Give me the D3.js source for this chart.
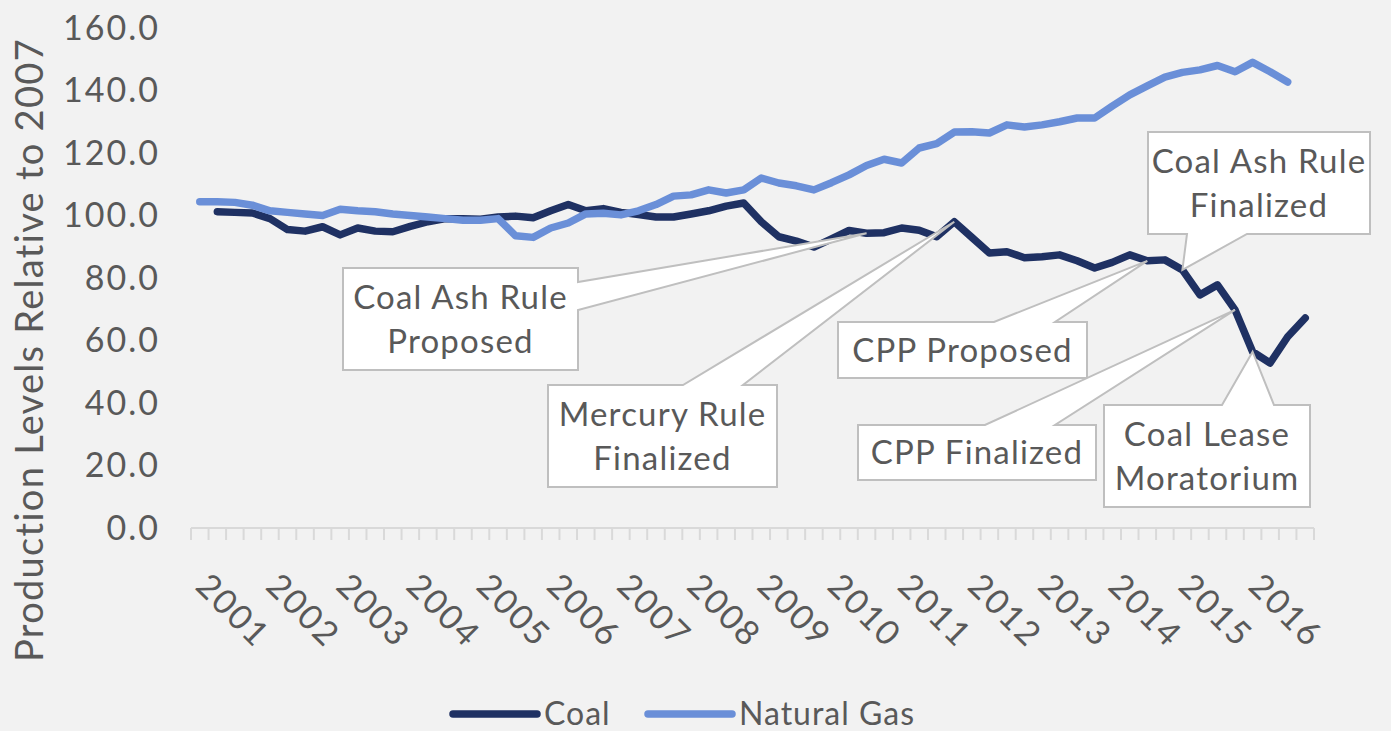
<!DOCTYPE html>
<html>
<head>
<meta charset="utf-8">
<script src="https://cdn.jsdelivr.net/npm/d3@7"></script>
<style>
  html, body { margin: 0; padding: 0; background: #f2f2f2; }
  svg { display: block; font-family: Lato, "Open Sans", sans-serif; }
</style>
</head>
<body>
<div id="chart"></div>
<script>
// Chart values
const years = ["2001", "2002", "2003", "2004", "2005", "2006", "2007", "2008",
  "2009", "2010", "2011", "2012", "2013", "2014", "2015", "2016"];
const quarters = ["Q1", "Q2", "Q3", "Q4"];
const yTicks = [0, 20, 40, 60, 80, 100, 120, 140, 160];

// quarterly production index, first coal quarter and last gas quarter not reported
const coal = [null, 101.2, 101.0, 100.8, 99.0, 95.5, 95.0, 96.4, 93.8, 96.0,
  95.0, 94.8, 96.5, 98.0, 99.0, 99.0, 98.8, 99.5, 99.8, 99.3,
  101.5, 103.5, 101.5, 102.2, 101.0, 100.3, 99.5, 99.5, 100.5, 101.5,
  103.0, 104.0, 98.0, 93.2, 91.8, 89.9, 92.5, 95.2, 94.3, 94.5,
  96.0, 95.3, 93.2, 98.0, 93.0, 88.0, 88.4, 86.5, 86.8, 87.4,
  85.5, 83.2, 85.0, 87.4, 85.5, 85.8, 82.6, 74.6, 77.8, 69.8,
  56.4, 52.8, 61.2, 67.2];
const gas = [104.4, 104.4, 104.2, 103.3, 101.5, 101.0, 100.5, 100.0, 102.0, 101.5,
  101.2, 100.5, 100.0, 99.5, 99.0, 98.5, 98.5, 99.0, 93.5, 93.0,
  96.0, 97.6, 100.5, 100.7, 100.2, 101.5, 103.5, 106.2, 106.6, 108.2,
  107.2, 108.2, 112.0, 110.4, 109.5, 108.2, 110.5, 113.0, 116.0, 118.0,
  116.8, 121.6, 123.0, 126.7, 126.8, 126.4, 129.0, 128.3, 129.0, 130.0,
  131.2, 131.2, 135.0, 138.6, 141.5, 144.3, 145.8, 146.6, 148.0, 146.0,
  149.0, 146.0, 142.7, null];

const seriesNames = ["Coal", "Natural Gas"];
const seriesColors = ["#1f3163", "#6a8fd8"];

// policy events: label lines and the coal quarter they point at
const eventLabels = [
  ["Coal Ash Rule", "Proposed"],
  ["Mercury Rule", "Finalized"],
  ["CPP Proposed"],
  ["CPP Finalized"],
  ["Coal Ash Rule", "Finalized"],
  ["Coal Lease", "Moratorium"]
];
const eventQuarter = [38, 43, 54, 59, 56, 60];

// callout box layout in pixels: x, y, w, h and wedge base points on the box edge
const calloutBoxes = [
  { x: 343, y: 268, w: 235, h: 102, edge: "right", a: 14, b: 42 },
  { x: 548, y: 385, w: 229, h: 102, edge: "top", a: 135, b: 195 },
  { x: 838, y: 322, w: 249, h: 56, edge: "top", a: 156, b: 217 },
  { x: 858, y: 425, w: 238, h: 55, edge: "top", a: 127, b: 197 },
  { x: 1148, y: 132, w: 222, h: 102, edge: "bottom", a: 39, b: 99 },
  { x: 1104, y: 405, w: 206, h: 102, edge: "top", a: 118, b: 170 }
];

const W = 1391, H = 731;
const textColor = "#595959";

const svg = d3.select("#chart")
  .append("svg")
  .attr("width", W)
  .attr("height", H);

svg.append("rect").attr("width", W).attr("height", H).attr("fill", "#f2f2f2");

const categories = [];
years.forEach(y => quarters.forEach(q => categories.push(y + " " + q)));

const x = d3.scaleBand()
  .domain(categories)
  .range([191, 1314])
  .padding(0);

const y = d3.scaleLinear()
  .domain([0, 160])
  .range([528, 28]);

const cx = i => x(categories[i]) + x.bandwidth() / 2;

// Y axis labels
svg.append("g")
  .selectAll("text")
  .data(yTicks)
  .enter()
  .append("text")
  .attr("x", 160)
  .attr("y", d => y(d))
  .attr("dy", "0.35em")
  .attr("text-anchor", "end")
  .attr("fill", textColor)
  .attr("font-size", 34)
  .attr("letter-spacing", 2)
  .text(d => d.toFixed(1));

svg.append("text")
  .attr("transform", `translate(43,${350}) rotate(-90)`)
  .attr("text-anchor", "middle")
  .attr("fill", textColor)
  .attr("font-size", 38)
  .attr("letter-spacing", 1.3)
  .text("Production Levels Relative to 2007");

// X axis line and ticks
const axisG = svg.append("g").attr("stroke", "#d9d9d9").attr("stroke-width", 2);
axisG.append("line")
  .attr("x1", 191).attr("x2", 1314)
  .attr("y1", 528).attr("y2", 528);
axisG.selectAll("line.tick")
  .data(d3.range(categories.length + 1))
  .enter()
  .append("line")
  .attr("class", "tick")
  .attr("x1", i => i < categories.length ? x(categories[i]) : x.range()[1])
  .attr("x2", i => i < categories.length ? x(categories[i]) : x.range()[1])
  .attr("y1", 528)
  .attr("y2", 540);

svg.append("g")
  .selectAll("text")
  .data(years)
  .enter()
  .append("text")
  .attr("transform", d => `translate(${x(d + " Q1") + 3},588) rotate(45)`)
  .attr("fill", textColor)
  .attr("font-size", 34)
  .attr("letter-spacing", 2)
  .text(d => d);

// Lines
const line = d3.line()
  .defined(d => d != null)
  .x((d, i) => cx(i))
  .y(d => y(d));

[coal, gas].forEach((s, k) => {
  svg.append("path")
    .datum(s)
    .attr("fill", "none")
    .attr("stroke", seriesColors[k])
    .attr("stroke-width", 7.5)
    .attr("stroke-linejoin", "round")
    .attr("stroke-linecap", "round")
    .attr("d", line);
});

// Callouts
function calloutPath(b, tip) {
  const pts = [];
  const L = b.x, T = b.y, R = b.x + b.w, B = b.y + b.h;
  pts.push([L, T]);
  if (b.edge === "top") pts.push([L + b.a, T], tip, [L + b.b, T]);
  pts.push([R, T]);
  if (b.edge === "right") pts.push([R, T + b.a], tip, [R, T + b.b]);
  pts.push([R, B]);
  if (b.edge === "bottom") pts.push([L + b.b, B], tip, [L + b.a, B]);
  pts.push([L, B]);
  return "M" + pts.map(p => p.join(",")).join("L") + "Z";
}

eventLabels.forEach((lines, k) => {
  const b = calloutBoxes[k];
  const q = eventQuarter[k];
  const tip = [cx(q), y(coal[q])];
  const g = svg.append("g");
  g.append("path")
    .attr("d", calloutPath(b, tip))
    .attr("fill", "#ffffff")
    .attr("stroke", "#bfbfbf")
    .attr("stroke-width", 2)
    .attr("stroke-linejoin", "miter");
  const lh = 44;
  const y0 = b.y + b.h / 2 - (lines.length - 1) * lh / 2;
  g.selectAll("text")
    .data(lines)
    .enter()
    .append("text")
    .attr("x", b.x + b.w / 2)
    .attr("y", (d, i) => y0 + i * lh)
    .attr("dy", "0.35em")
    .attr("text-anchor", "middle")
    .attr("fill", textColor)
    .attr("font-size", 33)
    .attr("letter-spacing", 1.2)
    .text(d => d);
});

// Legend
const legendPos = [453, 648];
seriesNames.forEach((name, k) => {
  svg.append("line")
    .attr("x1", legendPos[k]).attr("x2", legendPos[k] + 84)
    .attr("y1", 714).attr("y2", 714)
    .attr("stroke", seriesColors[k])
    .attr("stroke-width", 7.5)
    .attr("stroke-linecap", "round");
  svg.append("text")
    .attr("x", legendPos[k] + 91)
    .attr("y", 714)
    .attr("dy", "0.35em")
    .attr("fill", textColor)
    .attr("font-size", 32)
    .attr("letter-spacing", 1)
    .text(name);
});
</script>
</body>
</html>
